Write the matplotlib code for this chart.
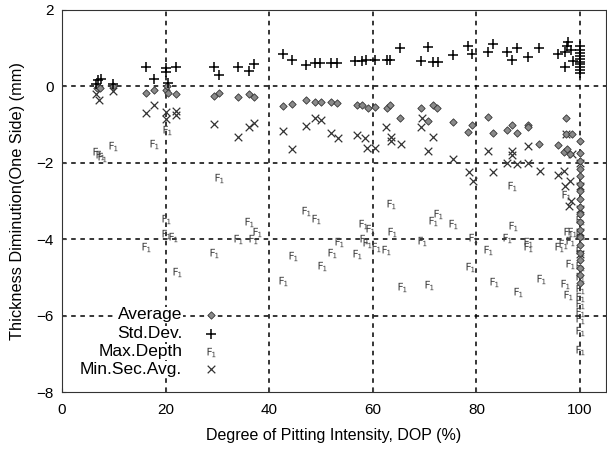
import matplotlib
matplotlib.use("Agg")
import matplotlib.pyplot as plt

plt.rcParams['font.family'] = ['Liberation Sans', 'DejaVu Sans']

# Std.Dev. (+)
sd_x = [7, 7.5, 6.5, 9.8, 16.2, 17.8, 20, 20, 20.5, 22, 29.3, 30.3, 34, 36, 37,
        42.7, 44.4, 47, 48.8, 49.8, 52, 53, 56.6, 58, 58.7, 60.4, 62.7, 63.3,
        65.3, 69.3, 70.7, 71.6, 72.6, 75.5, 78.4, 79.2, 82.2, 83.2, 85.9, 86.9,
        87.8, 90, 92, 95.8, 97.1, 97.5, 97.7, 98.2, 98.6, 97.1,
        100, 100, 100, 100, 100, 100, 100, 100, 100, 100]
sd_y = [0.18, 0.2, 0.05, 0.05, 0.5, 0.2, 0.47, 0.38, 0.1, 0.5, 0.5, 0.3, 0.5, 0.4, 0.58,
        0.84, 0.7, 0.55, 0.6, 0.6, 0.6, 0.6, 0.66, 0.66, 0.7, 0.7, 0.7, 0.68,
        1.0, 0.66, 1.02, 0.65, 0.63, 0.81, 1.05, 0.84, 0.89, 1.1, 0.89, 0.7,
        1.0, 0.76, 1.0, 0.84, 0.89, 1.05, 1.15, 0.95, 0.66, 0.5,
        1.05, 0.95, 0.88, 0.8, 0.72, 0.65, 0.58, 0.5, 0.42, 0.35]

# Average (diamond)
avg_x = [6.8, 7.4, 9.8, 16.2, 17.8, 20, 20.2, 20.4, 22, 29.3, 30.3, 34, 36, 37,
         42.7, 44.4, 47, 48.8, 50, 52, 53, 57, 58, 59, 60.4, 62.7, 63.3, 65.3,
         69.3, 70.7, 71.6, 72.4, 75.5, 78.4, 79.2, 82.2, 83.2, 85.9, 86.9, 87.8,
         90, 90, 92, 95.8, 97.3, 97.3, 98.4, 96.9, 97.5, 98.1, 100,
         100, 100, 100, 100, 100, 100, 100, 100, 100, 100, 100, 100, 100, 100,
         100, 100, 100, 100]
avg_y = [-0.03, -0.05, 0.0, -0.16, -0.1, -0.1, 0.0, -0.16, -0.2, -0.26, -0.16, -0.28, -0.21, -0.28,
         -0.52, -0.45, -0.36, -0.41, -0.41, -0.41, -0.43, -0.5, -0.48, -0.56, -0.54, -0.56, -0.5, -0.84,
         -0.56, -0.91, -0.5, -0.56, -0.93, -1.2, -1.02, -0.8, -1.23, -1.13, -1.0, -1.23,
         -1.0, -1.05, -1.5, -1.53, -0.82, -1.25, -1.25, -1.72, -1.63, -1.78, -1.44,
         -1.75, -1.95, -2.15, -2.35, -2.55, -2.75, -2.95, -3.15, -3.35, -3.55, -3.75, -3.95, -4.15, -4.35,
         -4.55, -4.75, -4.95, -5.15]

# Min.Sec.Avg. (x)
msa_x = [7.1, 6.5, 9.8, 16.2, 17.8, 20, 20, 22, 22, 29.3, 34, 36, 37, 42.7, 44.4,
         47, 48.8, 49.9, 52, 53.3, 57, 58.4, 58.8, 60.4, 62.5, 63.5, 63.5, 65.4,
         69.3, 69.5, 71.6, 70.7, 75.5, 78.5, 79.3, 82.2, 83.2, 85.9, 86.9, 86.9,
         87.8, 90, 90, 92.3, 95.8, 96.8, 97.1, 98.1, 97.3, 98.4, 97.9, 98.3,
         100, 100, 100, 100, 100]
msa_y = [-0.36, -0.2, -0.12, -0.7, -0.5, -0.68, -0.85, -0.65, -0.76, -0.98, -1.32, -1.07, -0.95, -1.18, -1.63,
         -1.03, -0.82, -0.87, -1.23, -1.36, -1.28, -1.36, -1.6, -1.6, -1.07, -1.33, -1.42, -1.52,
         -1.07, -0.82, -1.33, -1.7, -1.89, -2.25, -2.48, -1.7, -2.25, -2.0, -1.68, -1.8,
         -2.03, -1.57, -2.0, -2.22, -2.32, -2.22, -2.6, -2.48, -1.25, -1.78, -3.14, -3.0,
         -2.0, -2.6, -3.2, -3.8, -4.4]

# Max.Depth
md_x = [6.8, 7.3, 7.7, 9.8, 17.8, 20.3, 30.3, 20, 20, 21.4, 16.2, 22.2, 29.3, 36, 37.6,
        34, 36.9, 44.6, 42.7, 47, 49, 50.2, 52.1, 53.5, 57, 58.1, 59.5, 58.3, 58.8,
        60.6, 62.5, 63.5, 63.7, 65.6, 69.5, 70.8, 71.6, 72.6, 75.5, 78.8, 79.3, 82.2,
        83.4, 86.9, 87.1, 85.9, 88, 90, 90, 92.5, 97.3, 97.7, 98.4, 96, 96.7, 98.1,
        98.1, 97.1, 97.7,
        100, 100, 100, 100, 100, 100, 100, 100, 100, 100, 100, 100]
md_y = [-1.73, -1.8, -1.85, -1.57, -1.52, -1.13, -2.4, -3.48, -3.87, -3.93, -4.2, -4.87, -4.35, -3.56, -3.8,
        -4.0, -4.0, -4.45, -5.1, -3.27, -3.46, -4.71, -4.35, -4.08, -4.4, -3.61, -3.74, -4.0, -4.1,
        -4.2, -4.27, -3.09, -3.82, -5.24, -4.06, -5.2, -3.53, -3.35, -3.59, -4.74, -3.98, -4.29,
        -5.13, -2.6, -3.66, -3.96, -5.37, -4.08, -4.2, -5.05, -2.85, -3.82, -3.8, -4.21, -4.13, -4.06,
        -4.66, -5.18, -5.45,
        -3.5, -3.9, -4.3, -4.7, -5.0, -5.3, -5.5, -5.7, -5.9, -6.1, -6.4, -6.9]

labels = ['Average', 'Std.Dev.', 'Max.Depth', 'Min.Sec.Avg.']

md_marker = r'$\mathsf{F_{\!1}}$'

avg_style = dict(marker='D', s=14, facecolor='#8a8a8a', edgecolor='#333333', linewidths=0.6)
sd_style = dict(marker='+', s=42, c='black', linewidths=1.1)
md_style = dict(marker=md_marker, s=45, c='#3a3a3a', linewidths=0)
msa_style = dict(marker='x', s=30, c='#333333', linewidths=0.9)

fig = plt.figure(figsize=(6.07, 4.5), dpi=100)
ax = fig.add_axes([62 / 607, 58 / 450, 544 / 607, 382 / 450])
ax.set_axisbelow(True)

ax.scatter(md_x, md_y, zorder=3, **md_style)
ax.scatter(msa_x, msa_y, zorder=3, **msa_style)
ax.scatter(avg_x, avg_y, zorder=4, **avg_style)
ax.scatter(sd_x, sd_y, zorder=4, **sd_style)

ax.set_xlim(0, 105)
ax.set_ylim(-8, 2)
ax.set_xticks([0, 20, 40, 60, 80, 100])
ax.set_yticks([-8, -6, -4, -2, 0, 2])
ax.grid(True, color='black', linestyle=(0, (3, 3)), linewidth=1.1)
# no dashed lines on top of the frame
ax.xaxis.get_gridlines()[0].set_visible(False)
ax.yaxis.get_gridlines()[0].set_visible(False)
ax.yaxis.get_gridlines()[-1].set_visible(False)
ax.tick_params(labelsize=11, length=3, direction='in', color='#444444')
ax.tick_params(axis='x', pad=8)
ax.tick_params(axis='y', pad=6)
for s in ax.spines.values():
    s.set_color('#333333')
ax.set_xlabel('Degree of Pitting Intensity, DOP (%)', fontsize=11.5, labelpad=8)
ax.set_ylabel('Thickness Diminution(One Side) (mm)', fontsize=11.8, labelpad=8)

# legend drawn as right-aligned text with markers on the right
leg_y = [0.2016, 0.152, 0.105, 0.060]
styles = [avg_style, sd_style, md_style, msa_style]
for lab, yy, st in zip(labels, leg_y, styles):
    ax.text(0.221, yy, lab, transform=ax.transAxes, ha='right', va='center',
            fontsize=12.5, zorder=6,
            bbox=dict(facecolor='white', edgecolor='none', pad=0.5))
    ax.scatter([0.273], [yy], transform=ax.transAxes, zorder=6, **st)

fig.savefig('out.png', dpi=100)
